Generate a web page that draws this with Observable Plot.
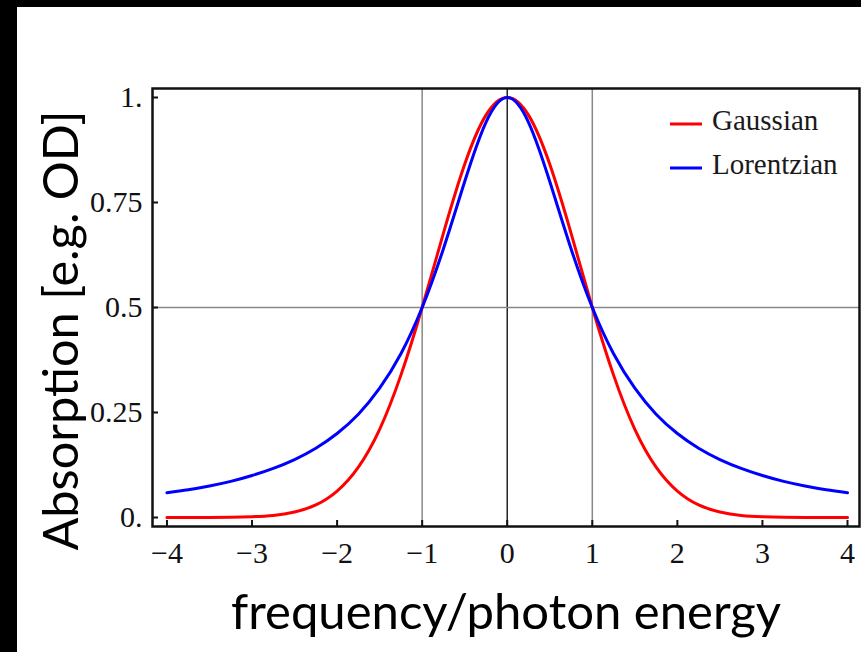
<!DOCTYPE html>
<html><head><meta charset="utf-8">
<script src="https://cdn.jsdelivr.net/npm/d3@7"></script>
<script src="https://cdn.jsdelivr.net/npm/@observablehq/plot@0.6"></script>
<style>
html,body{margin:0;padding:0;background:#000;width:861px;height:652px;overflow:hidden}
#panel{position:absolute;left:17px;top:7px;width:844px;height:645px;background:#fff}
</style></head><body><div id="panel"></div>
<script>
// x positions (frequency / photon energy)
const xValues = [-4,-3.75,-3.5,-3.25,-3,-2.75,-2.5,-2.25,-2,-1.75,-1.5,-1.25,-1,-0.75,-0.5,-0.25,0,
                 0.25,0.5,0.75,1,1.25,1.5,1.75,2,2.25,2.5,2.75,3,3.25,3.5,3.75,4];
// Gaussian absorption values
const gaussian = [0.000,0.0001,0.0002,0.0007,0.002,0.005,0.013,0.030,0.063,0.120,0.210,0.339,0.500,0.677,0.841,0.958,1.000,
                  0.958,0.841,0.677,0.500,0.339,0.210,0.120,0.063,0.030,0.013,0.005,0.002,0.0007,0.0002,0.0001,0.000];
// Lorentzian absorption values
const lorentzian = [0.059,0.066,0.075,0.086,0.100,0.117,0.138,0.165,0.200,0.246,0.308,0.390,0.500,0.640,0.800,0.941,1.000,
                    0.941,0.800,0.640,0.500,0.390,0.308,0.246,0.200,0.165,0.138,0.117,0.100,0.086,0.075,0.066,0.059];
const seriesNames = ["Gaussian","Lorentzian"];
const seriesColors = ["#ff0000","#0000ff"];
const xTicks = [-4,-3,-2,-1,0,1,2,3,4];
const xTickLabels = ["−4","−3","−2","−1","0","1","2","3","4"];
const yTicks = [0,0.25,0.5,0.75,1];
const yTickLabels = ["0.","0.25","0.5","0.75","1."];
const xGrid = [-1,0,1];
const yGrid = [0.5];
const xLabel = "frequency/photon energy";
const yLabel = "Absorption [e.g. OD]";

const rows = [];
xValues.forEach((x,i)=>rows.push({x, y: gaussian[i], s: seriesNames[0]}));
xValues.forEach((x,i)=>rows.push({x, y: lorentzian[i], s: seriesNames[1]}));

function legendMark(index, scales, values, dims) {
  const g = d3.create("svg:g");
  const right = dims.width - dims.marginRight;
  const top = dims.marginTop;
  seriesNames.forEach((name,i)=>{
    const y = top + 36 + i*44;
    g.append("line").attr("x1", right-189).attr("x2", right-157).attr("y1", y).attr("y2", y)
      .attr("stroke", seriesColors[i]).attr("stroke-width", 3);
    g.append("text").attr("x", right-147).attr("y", y).attr("dy","0.22em")
      .attr("text-anchor","start")
      .attr("font-size",29).attr("font-family","Liberation Serif").attr("fill","#1a1a1a").text(name);
  });
  return g.node();
}

const chart = Plot.plot({
  width: 844, height: 645,
  marginLeft: 135, marginRight: 2, marginTop: 81, marginBottom: 126,
  style: {background: "#fff", color: "#111", fontFamily: "Liberation Serif", overflow: "visible"},
  x: {domain: [-4.17, 4.141]},
  y: {domain: [-0.0214, 1.0214]},
  color: {domain: seriesNames, range: seriesColors},
  marks: [
    Plot.ruleX(xGrid, {x: d=>d, stroke: d => d === 0 ? "#222" : "#888", strokeWidth: 1.5}),
    Plot.ruleY(yGrid, {y: d=>d, stroke: "#888", strokeWidth: 1.5}),
    Plot.line(rows, {x: "x", y: "y", z: "s", stroke: "s", strokeWidth: 3, curve: "natural"}),
    Plot.frame({stroke: "#111", strokeWidth: 2.5}),
    Plot.axisX(xTicks, {anchor: "bottom", tickSize: -6, tickPadding: 21, strokeWidth: 2,
      tickFormat: d => xTickLabels[xTicks.indexOf(d)], fontSize: 30, label: null}),
    Plot.axisY(yTicks, {anchor: "left", tickSize: -6, tickPadding: 16, strokeWidth: 2,
      tickFormat: d => yTickLabels[yTicks.indexOf(d)], fontSize: 30, label: null}),
    Plot.text([xLabel], {frameAnchor: "bottom", dy: 102, lineAnchor: "bottom", textAnchor: "middle",
      fontSize: 48, fontFamily: "Lato", fill: "#000"}),
    Plot.text([yLabel], {frameAnchor: "left", rotate: -90, dx: -75, dy: 23, lineAnchor: "bottom", textAnchor: "middle",
      fontSize: 48, fontFamily: "Lato", fill: "#000"}),
    legendMark
  ]
});
document.getElementById("panel").appendChild(chart);
d3.select(chart).selectAll("text").each(function(){
  const t = this.textContent;
  if (t === xLabel) d3.select(this).attr("textLength", 550).attr("lengthAdjust", "spacingAndGlyphs");
  if (t === yLabel) d3.select(this).attr("textLength", 440).attr("lengthAdjust", "spacingAndGlyphs");
});
</script></body></html>
